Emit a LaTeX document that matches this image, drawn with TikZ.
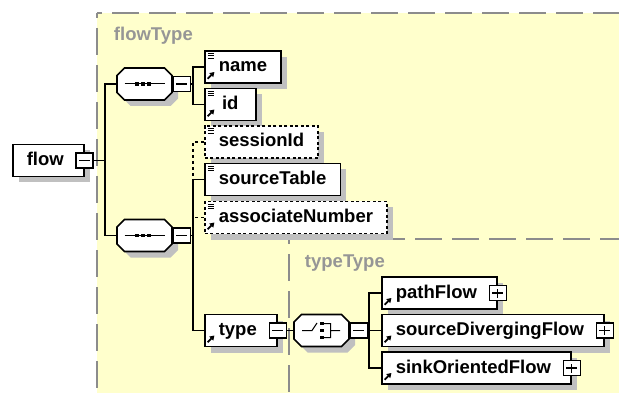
\documentclass[tikz,border=0pt]{standalone}
\usepackage{fontspec}
\usetikzlibrary{shapes.misc,shadows,arrows.meta}
\newfontfamily\schemafont{Liberation Sans}
\definecolor{groupfill}{RGB}{255,255,204}
\definecolor{groupdash}{RGB}{140,140,140}
\definecolor{grouptext}{RGB}{150,150,150}
\definecolor{shadowgray}{RGB}{192,192,192}
% corner marks of an element box: simple content (lines) and reference (arrow)
\newcommand\contentmark{\foreach \d in {2.6pt,4.9pt,7.2pt}
	\draw[black, solid, line width=.9pt] ([shift={(3pt,-\d)}]path picture bounding box.north west) -- ++(6.5pt,0pt);}
\newcommand\refmark{\draw[black, solid, line width=1.7pt, -{Triangle[length=4.5pt,width=5.5pt]}] ([shift={(2.8pt,4.2pt)}]path picture bounding box.south west) -- ++(6.8pt,6.8pt);}

\begin{document}
\begin{tikzpicture}[x=1pt, y=-1pt, line width=1.3pt,
	schemashadow/.style={general shadow={fill=shadowgray, shadow xshift=6pt, shadow yshift=-6pt}},
	elem/.style={draw, fill=white, anchor=west, line width=1.6pt, minimum height=32pt, inner xsep=14pt, inner ysep=0pt, text height=13.5pt, text depth=3.5pt, font=\schemafont\bfseries\fontsize{18.5}{20}\selectfont, schemashadow},
	optelem/.style={dash pattern=on 3pt off 2.5pt},
	optline/.style={dash pattern=on 3pt off 3pt},
	typed/.style={path picture=\contentmark},
	refd/.style={path picture=\refmark},
	typedref/.style={path picture={\contentmark\refmark}},
	room/.style={execute at end node={\hspace*{6pt}}},
	btn/.style={draw, solid, fill=white, minimum width=17pt, minimum height=15pt, inner sep=0pt, line width=1.2pt},
	collapsebtn/.style={btn, path picture={\draw[black, line width=1.2pt] ([xshift=3pt]path picture bounding box.west) -- ([xshift=-3pt]path picture bounding box.east);}},
	expandbtn/.style={btn, path picture={\draw[black, line width=1.2pt] ([xshift=3pt]path picture bounding box.west) -- ([xshift=-3pt]path picture bounding box.east) ([yshift=3pt]path picture bounding box.south) -- ([yshift=-3pt]path picture bounding box.north);}},
	% 55 x 32 octagon, corners cut by 7.5pt
	compositor/.style={draw, fill=white, chamfered rectangle, chamfered rectangle xsep=3.75pt, chamfered rectangle ysep=3.75pt, inner xsep=23.75pt, inner ysep=12.25pt, line width=1.6pt, schemashadow},
	seqbox/.style={compositor, path picture={
		\draw[black, line width=1pt] ([xshift=-20pt]path picture bounding box.center) -- ([xshift=20pt]path picture bounding box.center);
		\foreach \d in {-7.5pt,-1.5pt,4.5pt}
			\fill[black] ([xshift=\d]path picture bounding box.center) +(-1.8pt,-1.8pt) rectangle +(1.8pt,1.8pt);}},
	choicebox/.style={compositor, path picture={
		\draw[black, line width=1pt] ([xshift=-19.5pt]path picture bounding box.center) -- ++(10pt,0pt) -- ++(5pt,7.5pt)
			([shift={(2.5pt,7pt)}]path picture bounding box.center) -| ([shift={(9pt,-7pt)}]path picture bounding box.center) -- ++(-6.5pt,0pt)
			([xshift=9pt]path picture bounding box.center) -- ++(9.5pt,0pt);
		\foreach \d in {7pt,0pt,-7pt}
			\fill[black] ([shift={(0.5pt,\d)}]path picture bounding box.center) +(-1.8pt,-1.8pt) rectangle +(1.8pt,1.8pt);}},
	groupframe/.style={draw=groupdash, line width=2pt, dash pattern=on 27pt off 10pt, dash phase=22pt},
	grouplabel/.style={anchor=base west, text=grouptext, font=\schemafont\bfseries\fontsize{18.5}{20}\selectfont}]
	\useasboundingbox (0,0) rectangle (619,393);
	% groups of the complex types
	\fill[groupfill] (97,13) rectangle (630,400);
	\draw[groupframe] (97,13) -- (630,13);
	\draw[groupframe] (97,13) -- (97,400);
	\draw[groupframe] (289,239) -- (630,239);
	\draw[groupframe] (289,239) -- (289,400);
	\node[grouplabel] (flowTypeText) at (110,40.5) {flowType};
	\node[grouplabel] (typeTypeText) at (301,267) {typeType};
	% root element and its two sequences
	\node[elem, room] (flow) at (12,160.5) {flow};
	\node[collapsebtn] (flowbtn) at (flow.east) {};
	\node[seqbox] (seqA) at (144.5,84) {};
	\node[collapsebtn, anchor=west] (seqAbtn) at (seqA.east) {};
	\node[elem, typedref] (name) at (204,67) {name};
	\node[elem, typedref, minimum width=51pt] (id) at (204,104.5) {id};
	\node[seqbox] (seqB) at (144.5,235.5) {};
	\node[collapsebtn, anchor=west] (seqBbtn) at (seqB.east) {};
	\node[elem, optelem, typed] (sessionId) at (204,142) {sessionId};
	\node[elem, typed] (sourceTable) at (204,179.5) {sourceTable};
	\node[elem, optelem, typedref] (associateNumber) at (204,217.5) {associateNumber};
	\node[elem, refd, room] (type) at (204,330.5) {type};
	\node[collapsebtn] (typebtn) at (type.east) {};
	% choice inside typeType
	\node[choicebox] (choice) at (321.5,330.5) {};
	\node[collapsebtn, anchor=west] (choicebtn) at (choice.east) {};
	\node[elem, refd, room] (pathFlow) at (381,293) {pathFlow};
	\node[expandbtn] (pathFlowbtn) at (pathFlow.east) {};
	\node[elem, refd, room] (sourceDivergingFlow) at (381,330.5) {sourceDivergingFlow};
	\node[expandbtn] (sourceDivergingFlowbtn) at (sourceDivergingFlow.east) {};
	\node[elem, refd, room] (sinkOrientedFlow) at (381,368) {sinkOrientedFlow};
	\node[expandbtn] (sinkOrientedFlowbtn) at (sinkOrientedFlow.east) {};
	% connectors
	\coordinate (forkRoot) at (105,160.5);
	\coordinate (forkA) at (193,84);
	\coordinate (forkB) at (193,235.5);
	\coordinate (forkC) at (369,330.5);
	\draw (flowbtn.east) -- (forkRoot);
	\draw (seqA.west) -| (forkRoot) |- (seqB.west);
	\draw (seqAbtn.east) -- (forkA);
	\draw (name.west) -| (forkA) |- (id.west);
	\draw (seqBbtn.east) -- (forkB);
	\draw[optline] (sessionId.west) -| (sourceTable.west -| forkB);
	\draw (sourceTable.west) -| (forkB) |- (type.west);
	\draw[optline] (associateNumber.west) -- (associateNumber.west -| forkB);
	\draw (typebtn.east) -- (choice.west);
	\draw (choicebtn.east) -- (forkC);
	\draw (pathFlow.west) -| (forkC) |- (sinkOrientedFlow.west);
	\draw (sourceDivergingFlow.west) -- (forkC);
\end{tikzpicture}
\end{document}
